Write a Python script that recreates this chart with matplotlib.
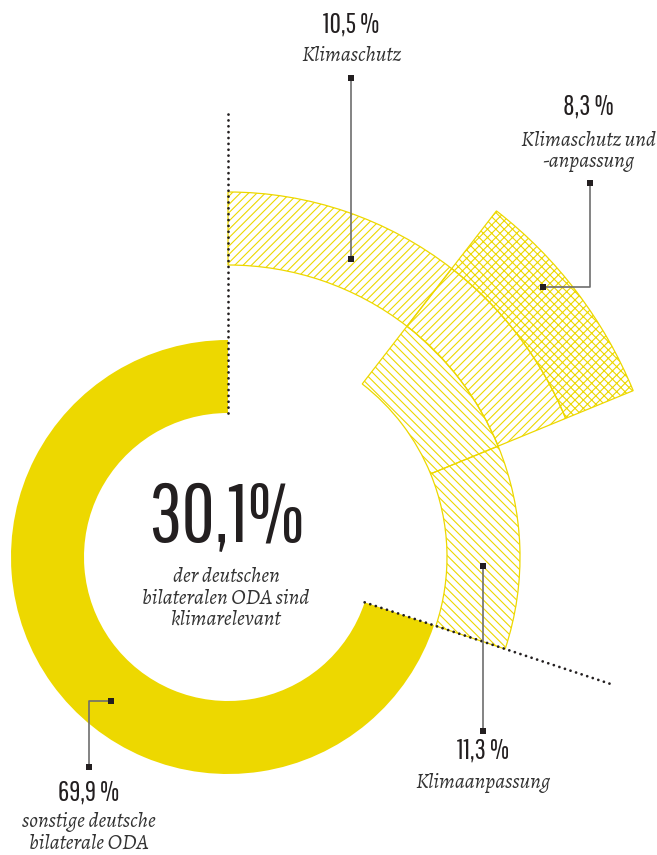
import matplotlib
matplotlib.use("Agg")
import matplotlib.pyplot as plt
from matplotlib.patches import Wedge
import numpy as np

# shares of German bilateral ODA (%)
share_schutz = 10.5      # Klimaschutz
share_beides = 8.3       # Klimaschutz und -anpassung
share_anpassung = 11.3   # Klimaanpassung
share_sonstige = 69.9    # sonstige deutsche bilaterale ODA

labels_num = ["10,5 %", "8,3 %", "11,3 %", "69,9 %"]
labels_txt = ["Klimaschutz", "Klimaschutz und\n-anpassung", "Klimaanpassung",
              "sonstige deutsche\nbilaterale ODA"]
center_big = "30,1%"
center_txt = "der deutschen\nbilateralen ODA sind\nklimarelevant"

YELLOW = "#EDD800"
DARK = "#231F20"
GREY = "#6E6E6E"
NUM_FONT = ["Pathway Gothic One", "Roboto Condensed", "DejaVu Sans"]
TXT_FONT = ["Alegreya", "Liberation Serif", "DejaVu Serif"]

plt.rcParams["hatch.linewidth"] = 0.8

fig = plt.figure(figsize=(6.57, 8.55), dpi=100)
ax = fig.add_axes([0, 0, 1, 1])
ax.set_xlim(0, 657)
ax.set_ylim(855, 0)
ax.set_aspect("equal")
ax.axis("off")

cx, cy = 228, 557


def deg(p):
    return p / 100 * 360


def band(a1, a2, r_in, r_out, **kw):
    # a1 < a2 in screen angles (counterclockwise from east); y axis is flipped
    w = Wedge((cx, cy), r_out, -a2, -a1, width=r_out - r_in, **kw)
    ax.add_patch(w)


top = 90
a_schutz_end = top - deg(share_schutz)
a_beides_end = a_schutz_end - deg(share_beides)
a_anp_end = a_beides_end - deg(share_anpassung)

# solid ring for the rest
band(top, top + deg(share_sonstige), 144, 217, facecolor=YELLOW, edgecolor="none")

hatch_kw = dict(facecolor="none", edgecolor=YELLOW, linewidth=0.9)
# Klimaschutz band (all mitigation)
band(a_schutz_end, top, 292, 365, hatch="////", **hatch_kw)
band(a_beides_end, a_schutz_end, 292, 365, hatch="////", **hatch_kw)
# Klimaanpassung band (all adaptation)
band(a_beides_end, a_schutz_end, 219, 292, hatch="\\\\\\\\", **hatch_kw)
band(a_anp_end, a_beides_end, 219, 292, hatch="\\\\\\\\", **hatch_kw)
# both
band(a_beides_end, a_schutz_end, 365, 438, hatch="xxxx", **hatch_kw)

# dotted separators
for ang, r_end in [(top, 445), (a_anp_end, 402)]:
    t = np.radians(ang)
    ax.plot([cx + 144 * np.cos(t), cx + r_end * np.cos(t)],
            [cy - 144 * np.sin(t), cy - r_end * np.sin(t)],
            color=DARK, lw=2.0, linestyle=(0, (0.01, 2.1)), dash_capstyle="round")

# leader lines
leaders = [
    [(351, 259), (351, 78)],
    [(543, 287), (590, 287), (590, 183)],
    [(483, 566), (483, 731)],
    [(111, 701), (89, 701), (89, 767)],
]
for pts in leaders:
    xs = [p[0] for p in pts]
    ys = [p[1] for p in pts]
    ax.plot(xs, ys, color=GREY, lw=1.2, solid_capstyle="butt")
    ax.plot([xs[0], xs[-1]], [ys[0], ys[-1]], "s", color=DARK, ms=4, mew=0)

# labels (baseline of number, baseline of last text line)
label_pos = [(351, 33, 61), (588, 115, 167), (483, 759, 788), (89, 801, 849)]
for num, txt, (x, yb_num, yb_txt) in zip(labels_num, labels_txt, label_pos):
    ax.text(x, yb_num, num, ha="center", va="baseline", fontsize=20,
            family=NUM_FONT, color=DARK)
    ax.text(x, yb_txt, txt, ha="center", va="baseline", fontsize=15.5,
            family=TXT_FONT, style="italic", color="#333333", linespacing=1.1)

ax.text(226, 542, center_big, ha="center", va="baseline", fontsize=59,
        family=NUM_FONT, color=DARK)
ax.text(226, 625, center_txt, ha="center", va="baseline", fontsize=15.5,
        family=TXT_FONT, style="italic", color="#333333", linespacing=1.1)

fig.savefig("out.png", dpi=100)
